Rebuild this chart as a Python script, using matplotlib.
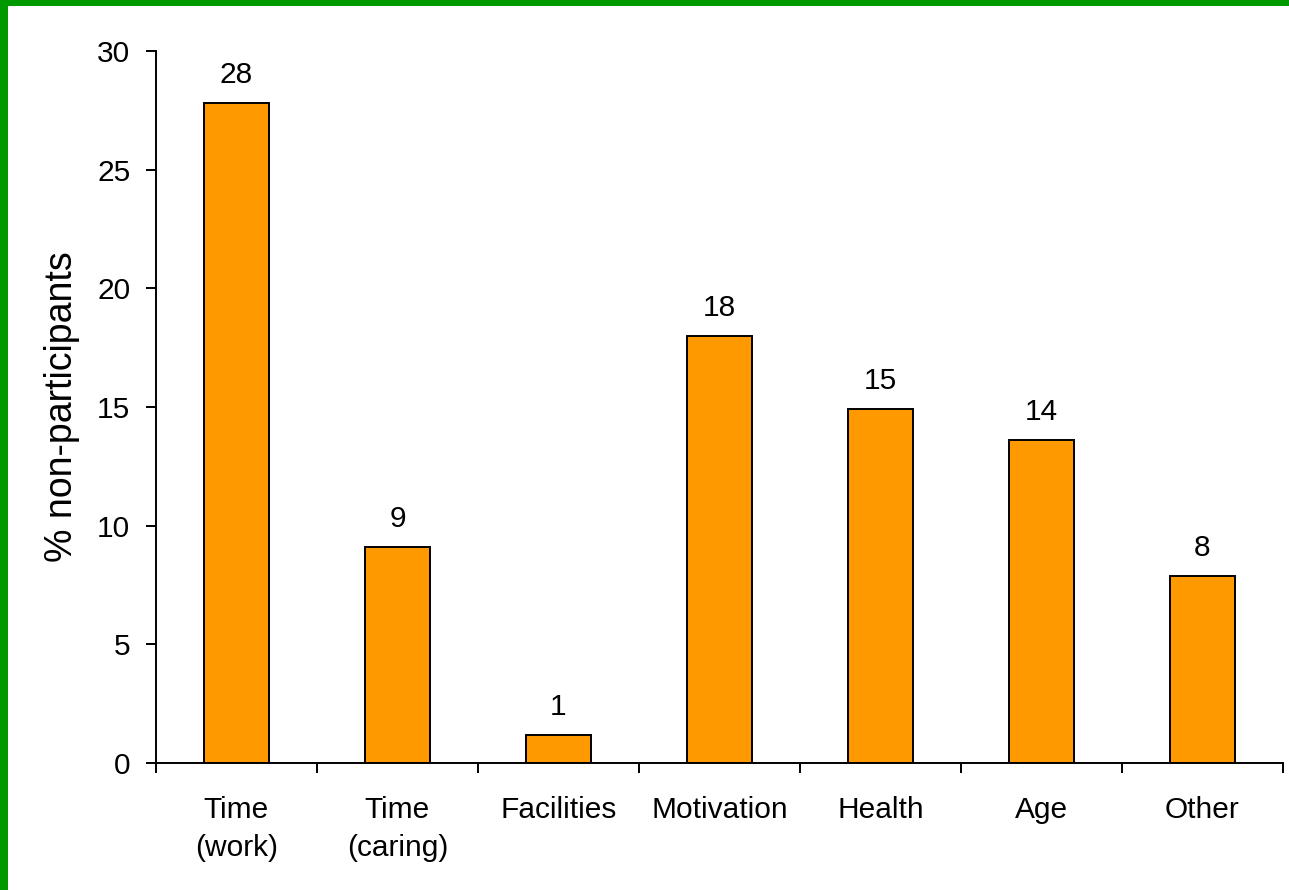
import matplotlib
matplotlib.use("Agg")
import matplotlib.pyplot as plt
from matplotlib.patches import Rectangle
import numpy as np

plt.rcParams['font.family'] = ['Liberation Sans', 'DejaVu Sans']

categories = ["Time\n(work)", "Time\n(caring)", "Facilities", "Motivation",
              "Health", "Age", "Other"]
pct = [27.8, 9.1, 1.2, 18.0, 14.9, 13.6, 7.9]
yticks = [0, 5, 10, 15, 20, 25, 30]

fs = 21.5
fig = plt.figure(figsize=(12.89, 8.90), dpi=100)
ax = fig.add_axes([0.1210, 0.1427, 0.8743, 0.8000])

x = np.arange(len(categories))
bars = ax.bar(x, pct, width=0.4, color='#FF9900', edgecolor='black', linewidth=1.4)
ax.bar_label(bars, labels=['%.0f' % v for v in pct], padding=10, fontsize=fs)

ax.set_xlim(-0.5, len(categories) - 0.5)
ax.set_ylim(0, 30)
ax.set_yticks(yticks)
ax.set_xticks(x)
ax.set_xticklabels(categories, fontsize=fs, linespacing=1.45)
ax.set_xticks(np.arange(-0.5, len(categories)), minor=True)
ax.tick_params(axis='x', which='major', length=0, pad=24)
ax.tick_params(axis='x', which='minor', length=7.5, width=1.4, direction='out')
ax.tick_params(axis='y', length=7.5, width=1.4, direction='out', labelsize=fs, pad=11)

for side in ['top', 'right']:
    ax.spines[side].set_visible(False)
for side in ['left', 'bottom']:
    ax.spines[side].set_linewidth(1.4)

ax.set_ylabel('% non-participants', fontsize=27, labelpad=12)

# green frame along the top and left edges
fig.add_artist(Rectangle((0, 1 - 5.5 / 890), 1, 5.5 / 890, transform=fig.transFigure,
                         color='#009900', lw=0))
fig.add_artist(Rectangle((0, 0), 7.5 / 1289, 1, transform=fig.transFigure,
                         color='#009900', lw=0))

fig.savefig('out.png', dpi=100)
